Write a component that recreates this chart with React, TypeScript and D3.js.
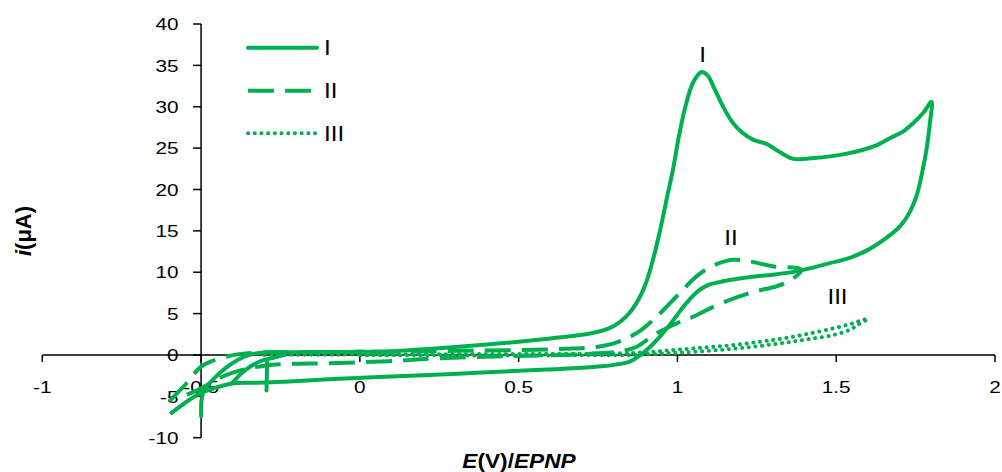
import React from "react";
import * as d3 from "d3";

type P = [number, number];

const xTickValues = [-1, -0.5, 0, 0.5, 1, 1.5, 2];
const xTickLabels = ["-1", "-0.5", "0", "0.5", "1", "1.5", "2"];
const yTickValues = [-10, -5, 0, 5, 10, 15, 20, 25, 30, 35, 40];
const yTickLabels = ["-10", "-5", "0", "5", "10", "15", "20", "25", "30", "35", "40"];
const seriesNames = ["I", "II", "III"];

const seriesI: P[] = [
  [-0.5, -7.4], [-0.499, -5.6], [-0.493, -4.5], [-0.475, -3.5], [-0.45, -2.5], [-0.42, -1.5],
  [-0.385, -0.6], [-0.35, 0.0], [-0.3, 0.3], [-0.2, 0.33], [-0.1, 0.35], [0, 0.38], [0.1, 0.45],
  [0.2, 0.7], [0.3, 0.95], [0.4, 1.25], [0.5, 1.6], [0.6, 2.0], [0.7, 2.45], [0.76, 2.9], [0.8, 3.5],
  [0.84, 4.7], [0.87, 6.2], [0.9, 8.6], [0.925, 11.8], [0.945, 15.0], [0.967, 19.0], [0.987, 22.6],
  [1.005, 26.5], [1.025, 30.0], [1.05, 33.0], [1.076, 34.2], [1.095, 33.8], [1.115, 32.3],
  [1.144, 30.0], [1.17, 28.3], [1.2, 27.0], [1.239, 26.0], [1.281, 25.5], [1.323, 24.5],
  [1.365, 23.7], [1.43, 23.8], [1.48, 24.0], [1.53, 24.3], [1.585, 24.8], [1.63, 25.4],
  [1.669, 26.2], [1.71, 27.0], [1.742, 28.0], [1.775, 29.3], [1.8, 30.6],
  [1.795, 28.0], [1.785, 25.0], [1.772, 22.3], [1.755, 19.5], [1.732, 17.3], [1.7, 15.5],
  [1.66, 14.2], [1.6, 12.7], [1.54, 11.7], [1.48, 11.1], [1.42, 10.5], [1.375, 10.1], [1.3, 9.7],
  [1.249, 9.5], [1.19, 9.2], [1.144, 8.9], [1.1, 8.5], [1.075, 8.0], [1.05, 7.2], [1.029, 6.3],
  [1.008, 5.3], [0.987, 4.2], [0.96, 2.9], [0.94, 2.0], [0.92, 1.2], [0.9, 0.5], [0.88, -0.1],
  [0.85, -0.8], [0.8, -1.2], [0.7, -1.55], [0.59, -1.75], [0.4, -2.1], [0.2, -2.45], [0.06, -2.65],
  [-0.1, -2.95], [-0.22, -3.2], [-0.32, -3.35], [-0.39, -3.4], [-0.45, -3.9], [-0.5, -4.6],
  [-0.54, -5.5], [-0.593, -7.0],
];
const seriesIHook: P[] = [
  [-0.4, -3.3], [-0.375, -2.3], [-0.345, -1.4], [-0.31, -0.7], [-0.27, -0.3], [-0.24, 0.0],
];
const seriesISpike: P[] = [[-0.292, -0.6], [-0.293, -2.5], [-0.294, -4.3]];

const seriesII: P[] = [
  [-0.6, -5.6], [-0.575, -4.6], [-0.55, -3.6], [-0.52, -2.2], [-0.5, -1.4], [-0.47, -0.8],
  [-0.43, -0.3], [-0.38, 0.1], [-0.3, 0.3], [-0.1, 0.35], [0.1, 0.4], [0.3, 0.5], [0.5, 0.6],
  [0.65, 0.75], [0.75, 1.0], [0.8, 1.4], [0.84, 2.0], [0.882, 2.9], [0.92, 4.1], [0.955, 5.4],
  [1.008, 7.5], [1.06, 9.5], [1.113, 10.8], [1.176, 11.5], [1.228, 11.3], [1.302, 10.7],
  [1.39, 10.3],
  [1.35, 8.9], [1.312, 8.3], [1.228, 7.5], [1.123, 6.0], [1.06, 4.8], [0.997, 3.8], [0.934, 2.6],
  [0.9, 1.7], [0.872, 1.0], [0.83, 0.5], [0.75, 0.2], [0.63, 0.0], [0.45, -0.15], [0.25, -0.4],
  [0.09, -0.75], [-0.1, -1.0], [-0.23, -1.1], [-0.3, -1.3], [-0.36, -1.7], [-0.42, -2.4],
  [-0.47, -3.4], [-0.52, -4.4], [-0.56, -5.0],
];

const seriesIII: P[] = [
  [-0.3, 0.0], [0, 0.05], [0.3, 0.1], [0.6, 0.15], [0.86, 0.25], [1.018, 0.7], [1.1, 0.95],
  [1.176, 1.2], [1.26, 1.6], [1.333, 2.0], [1.41, 2.55], [1.49, 3.2], [1.55, 3.8], [1.585, 4.25],
  [1.6, 4.35],
  [1.57, 3.7], [1.543, 3.05], [1.49, 2.4], [1.41, 1.9], [1.333, 1.45], [1.25, 1.05], [1.176, 0.75],
  [1.1, 0.5], [1.018, 0.3], [0.94, 0.15], [0.86, 0.0], [0.6, -0.05], [0.3, -0.05], [0, -0.05],
];

const GREEN = "#00B050";
const FONT = "'Liberation Sans', Arial, sans-serif";

function T({ x, y, children, anchor = "middle", size = 17, sx = 1.22, weight = 400, rotate = 0 }: any) {
  const tr = `translate(${x},${y})${rotate ? ` rotate(${rotate})` : ""} scale(${sx},1)`;
  return (
    <text transform={tr} textAnchor={anchor} fontSize={size} fontFamily={FONT} fontWeight={weight} fill="#000">
      {children}
    </text>
  );
}

export default function App() {
  const x = d3.scaleLinear().domain([-1, 2]).range([42.3, 995]);
  const y = d3.scaleLinear().domain([-10, 40]).range([437.7, 24]);
  const line = d3
    .line<P>()
    .x((d) => x(d[0]))
    .y((d) => y(d[1]))
    .curve(d3.curveCatmullRom.alpha(0.5));

  const x0 = y(0);
  const yAxisX = x(-0.5);

  const solid = { stroke: GREEN, strokeWidth: 4, fill: "none", strokeLinecap: "round" as const, strokeLinejoin: "round" as const };
  const dashed = { ...solid, strokeLinecap: "butt" as const, strokeDasharray: "26 11" };
  const dotted = { ...solid, strokeWidth: 4, strokeDasharray: "0.1 6.6" };

  const legendY = [47.7, 90.7, 133.3];
  const legendStyles = [solid, dashed, dotted];

  return (
    <svg width={1002} height={472} style={{ position: "absolute", left: 0, top: 0, background: "#fff" }}>
      {/* axes */}
      <line x1={x(-1)} x2={x(2)} y1={x0} y2={x0} stroke="#000" strokeWidth={1.5} />
      <line x1={yAxisX} x2={yAxisX} y1={y(40)} y2={y(-10)} stroke="#000" strokeWidth={1.5} />
      {xTickValues.map((v, i) => (
        <g key={"xt" + i}>
          <line x1={x(v)} x2={x(v)} y1={x0} y2={x0 + 7} stroke="#000" strokeWidth={1.5} />
          <T x={x(v)} y={393}>{xTickLabels[i]}</T>
        </g>
      ))}
      {yTickValues.map((v, i) => (
        <g key={"yt" + i}>
          <line x1={yAxisX - 8} x2={yAxisX} y1={y(v)} y2={y(v)} stroke="#000" strokeWidth={1.5} />
          <T x={178.5} y={y(v) + 6.2} anchor="end">{yTickLabels[i]}</T>
        </g>
      ))}

      {/* series */}
      <path d={line(seriesI) || ""} style={solid} />
      <path d={line(seriesIHook) || ""} style={solid} />
      <path d={line(seriesISpike) || ""} style={solid} />
      <path d={line(seriesII) || ""} style={dashed} />
      <path d={line(seriesIII) || ""} style={dotted} />

      {/* annotations */}
      <T x={702.7} y={61.7} size={22} sx={1.1}>I</T>
      <T x={731} y={245} size={22} sx={1.1}>II</T>
      <T x={837.5} y={304} size={22} sx={1.1}>III</T>

      {/* legend */}
      {seriesNames.map((n, i) => (
        <g key={"lg" + i}>
          <line x1={248} x2={317} y1={legendY[i]} y2={legendY[i]} style={legendStyles[i]} />
          <T x={324} y={legendY[i] + 7.6} anchor="start" size={22} sx={1.1}>{n}</T>
        </g>
      ))}

      {/* axis titles */}
      <g transform="translate(519,468) scale(1.08,1)">
        <text textAnchor="middle" fontSize={21} fontFamily={FONT} fontWeight={700} fill="#000">
          <tspan fontStyle="italic">E</tspan>
          <tspan>(V)/</tspan>
          <tspan fontStyle="italic">EPNP</tspan>
        </text>
      </g>
      <g transform="translate(31,231) rotate(-90)">
        <text textAnchor="middle" fontSize={22} fontFamily={FONT} fontWeight={700} fill="#000">
          <tspan fontStyle="italic">i</tspan>
          <tspan>(μA)</tspan>
        </text>
      </g>
    </svg>
  );
}
